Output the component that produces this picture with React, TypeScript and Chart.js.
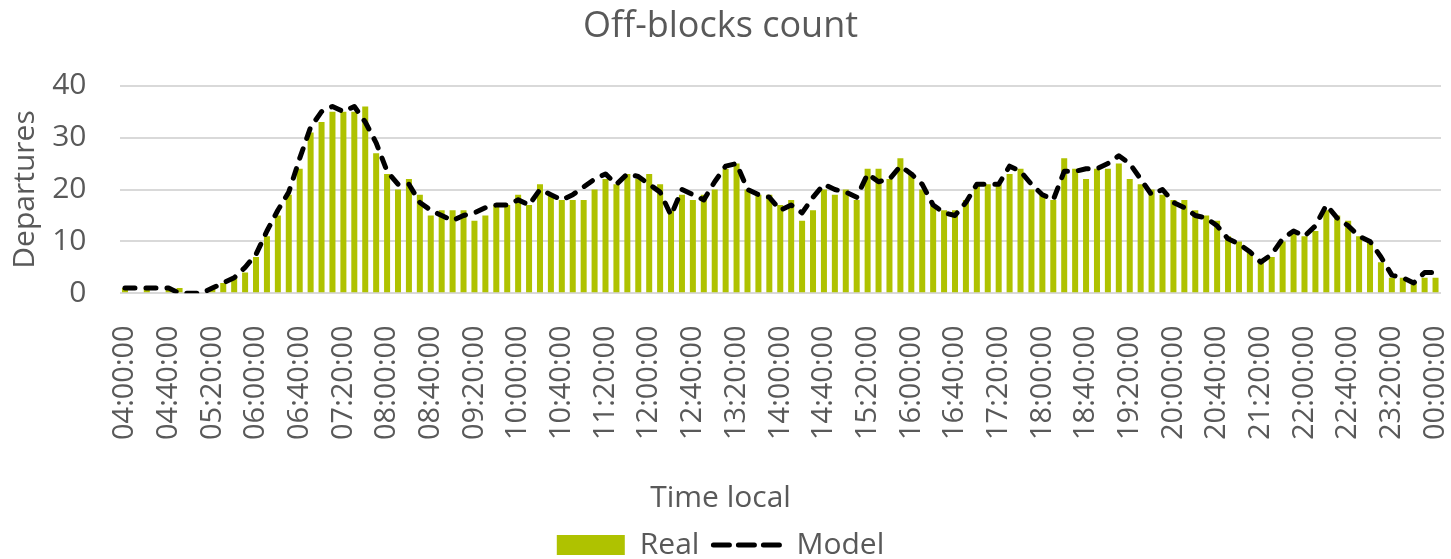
import React, { useEffect, useRef } from 'react';
import { Chart, registerables } from 'chart.js';

Chart.register(...registerables);

const categories = [
  '04:00:00', '04:10:00', '04:20:00', '04:30:00', '04:40:00', '04:50:00',
  '05:00:00', '05:10:00', '05:20:00', '05:30:00', '05:40:00', '05:50:00',
  '06:00:00', '06:10:00', '06:20:00', '06:30:00', '06:40:00', '06:50:00',
  '07:00:00', '07:10:00', '07:20:00', '07:30:00', '07:40:00', '07:50:00',
  '08:00:00', '08:10:00', '08:20:00', '08:30:00', '08:40:00', '08:50:00',
  '09:00:00', '09:10:00', '09:20:00', '09:30:00', '09:40:00', '09:50:00',
  '10:00:00', '10:10:00', '10:20:00', '10:30:00', '10:40:00', '10:50:00',
  '11:00:00', '11:10:00', '11:20:00', '11:30:00', '11:40:00', '11:50:00',
  '12:00:00', '12:10:00', '12:20:00', '12:30:00', '12:40:00', '12:50:00',
  '13:00:00', '13:10:00', '13:20:00', '13:30:00', '13:40:00', '13:50:00',
  '14:00:00', '14:10:00', '14:20:00', '14:30:00', '14:40:00', '14:50:00',
  '15:00:00', '15:10:00', '15:20:00', '15:30:00', '15:40:00', '15:50:00',
  '16:00:00', '16:10:00', '16:20:00', '16:30:00', '16:40:00', '16:50:00',
  '17:00:00', '17:10:00', '17:20:00', '17:30:00', '17:40:00', '17:50:00',
  '18:00:00', '18:10:00', '18:20:00', '18:30:00', '18:40:00', '18:50:00',
  '19:00:00', '19:10:00', '19:20:00', '19:30:00', '19:40:00', '19:50:00',
  '20:00:00', '20:10:00', '20:20:00', '20:30:00', '20:40:00', '20:50:00',
  '21:00:00', '21:10:00', '21:20:00', '21:30:00', '21:40:00', '21:50:00',
  '22:00:00', '22:10:00', '22:20:00', '22:30:00', '22:40:00', '22:50:00',
  '23:00:00', '23:10:00', '23:20:00', '23:30:00', '23:40:00', '23:50:00',
  '00:00:00',
];

const tickLabels = [
  '04:00:00', '04:40:00', '05:20:00', '06:00:00', '06:40:00', '07:20:00',
  '08:00:00', '08:40:00', '09:20:00', '10:00:00', '10:40:00', '11:20:00',
  '12:00:00', '12:40:00', '13:20:00', '14:00:00', '14:40:00', '15:20:00',
  '16:00:00', '16:40:00', '17:20:00', '18:00:00', '18:40:00', '19:20:00',
  '20:00:00', '20:40:00', '21:20:00', '22:00:00', '22:40:00', '23:20:00',
  '00:00:00',
];

const realValues = [
  1, 0, 1, 0, 1, 1, 0, 0, 1, 2,
  3, 4, 7, 11, 15, 19, 24, 31, 33, 35,
  35, 35, 36, 27, 23, 20, 22, 19, 15, 16,
  16, 16, 14, 15, 17, 17, 19, 17, 21, 19,
  18, 18, 18, 20, 22, 21, 23, 22, 23, 21,
  16, 19, 18, 19, 20, 24, 25, 20, 19, 19,
  17, 18, 14, 16, 20, 19, 20, 18, 24, 24,
  22, 26, 23, 20, 17, 16, 16, 18, 21, 21,
  21, 23, 24, 20, 19, 18, 26, 24, 22, 24,
  24, 25, 22, 21, 20, 19, 18, 18, 16, 15,
  14, 11, 10, 8, 6, 7, 10, 12, 11, 12,
  16, 15, 14, 11, 10, 6, 3, 3, 2, 3,
  3,
];

const modelValues = [
  1, 1, 1, 1, 1, 0, 0, 0, 1, 2,
  3, 5, 7.5, 12, 16, 19.5, 26, 32, 35, 36,
  35, 36, 33, 29, 23.5, 21, 21, 17.5, 16, 15,
  14, 15, 15.5, 16.5, 17, 17, 18, 17, 20, 19,
  18, 19, 20.5, 22, 23, 21, 23, 22.5, 21, 19.5,
  15, 20, 19, 18, 21.5, 24.5, 25, 20, 19, 18.5,
  16, 17, 15.5, 18.5, 21, 20, 19.5, 18.5, 23, 21.5,
  22, 24.5, 23, 21, 17, 15.5, 15, 17.5, 21, 21,
  21, 24.5, 23.5, 21, 19, 18, 23.5, 23.5, 24, 24,
  25, 26.5, 25, 22, 19, 20, 17.5, 16.5, 15, 14.5,
  13, 10.5, 9.5, 8, 6, 7.5, 10.5, 12, 11, 13,
  17, 14.5, 13, 11, 10, 7, 3.5, 3, 2, 4,
  4,
];

const GREEN = '#afc200';
const TEXT = '#595959';
const GRID = '#d9d9d9';
const FONT = "'Open Sans', sans-serif";

export default function App() {
  const ref = useRef<HTMLCanvasElement>(null);

  useEffect(() => {
    document.body.style.margin = '0';
    const canvas = ref.current;
    if (!canvas) return;
    const chart = new Chart(canvas, {
      type: 'bar',
      data: {
        labels: categories,
        datasets: [
          {
            type: 'bar',
            label: 'Real',
            data: realValues,
            backgroundColor: GREEN,
            barPercentage: 0.55,
            categoryPercentage: 1,
            order: 1,
          },
          {
            type: 'line',
            label: 'Model',
            data: modelValues,
            borderColor: '#000000',
            backgroundColor: '#000000',
            borderWidth: 5,
            borderDash: [10, 11],
            borderCapStyle: 'round',
            borderJoinStyle: 'round',
            pointRadius: 0,
            tension: 0,
            fill: false,
            order: 0,
          },
        ],
      } as any,
      options: {
        animation: false,
        responsive: true,
        maintainAspectRatio: false,
        devicePixelRatio: 1,
        layout: { padding: { left: 0, right: 10, top: 0, bottom: -11 } },
        scales: {
          x: {
            offset: true,
            grid: { display: false },
            border: { display: false },
            ticks: {
              autoSkip: false,
              maxRotation: 90,
              minRotation: 90,
              padding: 24,
              color: TEXT,
              font: { family: FONT, size: 29 },
              callback: (_v: any, i: number) => {
                const c = categories[i];
                return tickLabels.includes(c) ? c : '';
              },
            },
            afterFit: (s: any) => {
              s.height = 170;
              s.paddingLeft = 0;
              s.paddingRight = 0;
            },
          },
          y: {
            min: 0,
            max: 40,
            ticks: {
              stepSize: 10,
              padding: 33,
              color: TEXT,
              font: { family: FONT, size: 30 },
            },
            grid: { color: GRID, lineWidth: 2, drawTicks: false },
            border: { display: false },
            title: {
              display: true,
              text: 'Departures',
              color: TEXT,
              font: { family: FONT, size: 30 },
              padding: { top: 7, bottom: 0 },
            },
            afterFit: (s: any) => {
              s.width = 119.5;
            },
          },
        },
        plugins: {
          title: {
            display: true,
            text: 'Off-blocks count',
            color: TEXT,
            font: { family: FONT, size: 36, weight: 'normal' },
            padding: { top: 5, bottom: 37.5 },
          },
          subtitle: {
            display: true,
            text: 'Time local',
            position: 'bottom',
            weight: 500,
            color: TEXT,
            font: { family: FONT, size: 30, weight: 'normal' },
            padding: { top: 16.7, bottom: 0 },
          },
          legend: {
            position: 'bottom',
            labels: {
              usePointStyle: true,
              pointStyleWidth: 68,
              boxHeight: 20,
              padding: 14,
              color: TEXT,
              font: { family: FONT, size: 30 },
              generateLabels: () => [
                {
                  text: 'Real',
                  fillStyle: GREEN,
                  strokeStyle: GREEN,
                  lineWidth: 0,
                  pointStyle: 'rect',
                  hidden: false,
                  datasetIndex: 0,
                  fontColor: TEXT,
                },
                {
                  text: 'Model',
                  fillStyle: 'rgba(0,0,0,0)',
                  strokeStyle: '#000000',
                  lineWidth: 5,
                  lineDash: [16, 9],
                  lineCap: 'round',
                  pointStyle: 'line',
                  hidden: false,
                  datasetIndex: 1,
                  fontColor: TEXT,
                },
              ],
            },
          },
          tooltip: { enabled: false },
        },
      } as any,
    });
    return () => chart.destroy();
  }, []);

  return (
    <div style={{ position: 'relative', width: 1451, height: 559 }}>
      <canvas ref={ref} />
    </div>
  );
}
